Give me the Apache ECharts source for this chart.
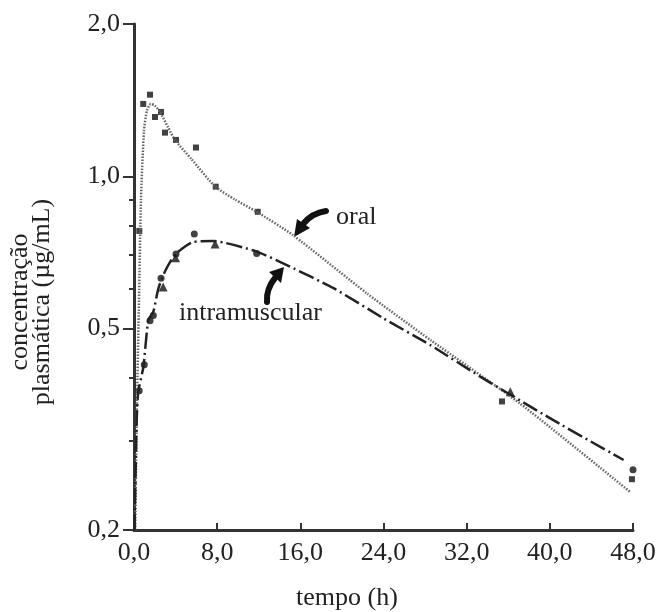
<!DOCTYPE html>
<html>
<head>
<meta charset="utf-8">
<script src="https://cdn.jsdelivr.net/npm/echarts@6/dist/echarts.min.js"></script>
<style>
  html, body { margin: 0; padding: 0; background: #fff; }
  #chart { width: 664px; height: 612px; }
</style>
</head>
<body>
<div id="chart"></div>
<script>
// tempo (h) / concentração (µg/mL)
const xTicks = [0, 8, 16, 24, 32, 40, 48]
const yMajor = [0.2, 0.5, 1, 2]
const yMinor = [0.3, 0.4, 0.6, 0.7, 0.8, 0.9]

const oralCurve = [
  [0.12, 0.2], [0.29, 0.36], [0.48, 0.57], [0.67, 0.9], [0.96, 1.23], [1.25, 1.35],
  [1.6, 1.39], [2.0, 1.38], [2.5, 1.34], [3.27, 1.25], [3.94, 1.18], [5.55, 1.08],
  [7.8, 0.955], [9.7, 0.9], [11.8, 0.851], [15.3, 0.765], [22.4, 0.587],
  [28.5, 0.475], [37.1, 0.356], [47.7, 0.238]
]
const oralPoints = [
  [0.51, 0.78], [0.89, 1.39], [1.54, 1.45], [2.02, 1.31], [2.6, 1.34], [2.98, 1.22],
  [4.04, 1.18], [5.96, 1.14], [7.86, 0.954], [11.9, 0.851], [35.4, 0.359], [47.9, 0.252]
]

const imCurve = [
  [0.05, 0.2], [0.26, 0.33], [0.41, 0.375], [0.9, 0.42], [1.38, 0.52], [1.86, 0.54],
  [2.34, 0.6], [3.0, 0.65], [3.94, 0.7], [5.55, 0.74], [7.6, 0.745], [11.8, 0.71],
  [15.0, 0.663], [19.2, 0.601], [24.0, 0.524], [28.5, 0.464], [33.3, 0.402],
  [40.3, 0.33], [47.1, 0.275]
]
const imDots = [
  [0.5, 0.377], [0.99, 0.424], [1.54, 0.518], [1.86, 0.531], [2.6, 0.629],
  [4.04, 0.702], [5.8, 0.769], [11.8, 0.704], [48.0, 0.263]
]
const imTriangles = [[2.8, 0.604], [4.0, 0.69], [7.8, 0.735], [36.2, 0.375]]

const serif = "'Liberation Serif', 'Times New Roman', serif"
const fmt = v => Number(v).toFixed(1).replace('.', ',')

const chart = echarts.init(document.getElementById('chart'))

chart.setOption({
  backgroundColor: '#fff',
  animation: false,
  grid: { left: 134, right: 31, top: 24, bottom: 82 },
  xAxis: {
    type: 'value',
    min: 0,
    max: 48,
    interval: 8,
    splitLine: { show: false },
    axisLine: { lineStyle: { color: '#333', width: 3 } },
    axisTick: { inside: true, length: 7, lineStyle: { color: '#333', width: 2 } },
    axisLabel: {
      margin: 10,
      fontFamily: serif,
      fontSize: 26,
      color: '#222',
      formatter: fmt,
      customValues: xTicks
    }
  },
  yAxis: [
    {
      type: 'log',
      logBase: 10,
      min: 0.2,
      max: 2,
      position: 'left',
      splitLine: { show: false },
      axisLine: { show: true, lineStyle: { color: '#333', width: 3 } },
      axisTick: { show: true, length: 11, lineStyle: { color: '#333', width: 2 }, customValues: yMajor },
      axisLabel: {
        margin: 14,
        fontFamily: serif,
        fontSize: 26,
        color: '#222',
        formatter: fmt,
        customValues: yMajor
      }
    },
    {
      type: 'log',
      logBase: 10,
      min: 0.2,
      max: 2,
      position: 'left',
      offset: 0,
      splitLine: { show: false },
      axisLine: { show: false },
      axisTick: { show: true, length: 5, lineStyle: { color: '#333', width: 2 }, customValues: yMinor },
      axisLabel: { show: false }
    }
  ],
  graphic: [
    {
      type: 'text',
      x: 20, y: 302, rotation: Math.PI / 2,
      style: { text: 'concentração', font: '26px ' + serif, fill: '#222', align: 'center', verticalAlign: 'middle' }
    },
    {
      type: 'text',
      x: 42, y: 302, rotation: Math.PI / 2,
      style: { text: 'plasmática (µg/mL)', font: '26px ' + serif, fill: '#222', align: 'center', verticalAlign: 'middle' }
    },
    {
      type: 'text',
      x: 347, y: 598,
      style: { text: 'tempo (h)', font: '26px ' + serif, fill: '#222', align: 'center', verticalAlign: 'middle' }
    },
    {
      type: 'text',
      x: 336, y: 217,
      style: { text: 'oral', font: '26px ' + serif, fill: '#222', align: 'left', verticalAlign: 'middle' }
    },
    {
      type: 'text',
      x: 179, y: 313,
      style: { text: 'intramuscular', font: '26px ' + serif, fill: '#222', align: 'left', verticalAlign: 'middle' }
    },
    // setas
    {
      type: 'bezierCurve',
      shape: { x1: 326, y1: 211, x2: 303, y2: 224, cpx1: 312, cpy1: 213 },
      style: { stroke: '#111', lineWidth: 6, fill: null, lineCap: 'round' }
    },
    {
      type: 'polygon',
      shape: { points: [[294, 237], [297, 219], [310, 228]] },
      style: { fill: '#111' }
    },
    {
      type: 'bezierCurve',
      shape: { x1: 267, y1: 302, x2: 275, y2: 278, cpx1: 266, cpy1: 289 },
      style: { stroke: '#111', lineWidth: 6, fill: null, lineCap: 'round' }
    },
    {
      type: 'polygon',
      shape: { points: [[284, 267], [269, 272], [281, 283]] },
      style: { fill: '#111' }
    }
  ],
  series: [
    {
      name: 'oral',
      type: 'line',
      data: oralCurve,
      smooth: 0.2,
      showSymbol: false,
      clip: true,
      lineStyle: { color: '#666', width: 2.5, type: [1.5, 1.5] }
    },
    {
      name: 'intramuscular',
      type: 'line',
      data: imCurve,
      smooth: 0.2,
      showSymbol: false,
      clip: true,
      lineStyle: { color: '#222', width: 2.5, type: [16, 4, 2, 4] }
    },
    {
      name: 'oral pontos',
      type: 'scatter',
      data: oralPoints,
      symbol: 'rect',
      symbolSize: 6,
      itemStyle: { color: '#111' }
    },
    {
      name: 'intramuscular pontos',
      type: 'scatter',
      data: imDots,
      symbol: 'circle',
      symbolSize: 7,
      itemStyle: { color: '#111' }
    },
    {
      name: 'intramuscular triângulos',
      type: 'scatter',
      data: imTriangles,
      symbol: 'triangle',
      symbolSize: 9,
      itemStyle: { color: '#111' }
    }
  ]
})
</script>
</body>
</html>
